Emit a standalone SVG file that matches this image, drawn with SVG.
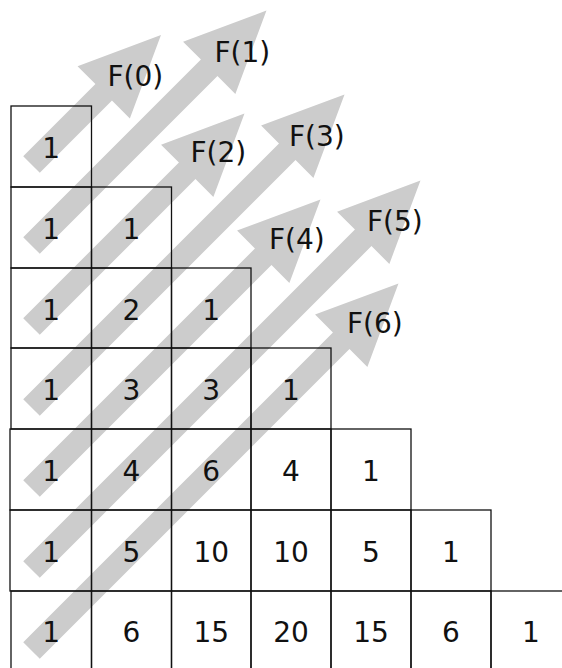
<svg xmlns="http://www.w3.org/2000/svg" width="562" height="668" viewBox="0 0 562 668">
<style>
.arrow{fill:#cccccc;stroke:none}
.cell{fill:none;stroke:#111;stroke-width:1.3}
.num{font-family:"DejaVu Sans","Liberation Sans",sans-serif;font-size:28px;fill:#111;text-anchor:middle}
.lbl{font-family:"DejaVu Sans","Liberation Sans",sans-serif;font-size:28px;fill:#111}
</style>
<rect width="562" height="668" fill="#fff"/>
<g id="arrows">
<polygon class="arrow" transform="translate(31.5,164.5) rotate(-45)" points="0,-11.7 102.1,-11.7 102.1,-37 183.1,0 102.1,37 102.1,11.7 0,11.7"/>
<polygon class="arrow" transform="translate(31.5,245.5) rotate(-45)" points="0,-11.7 251.3,-11.7 251.3,-37 332.3,0 251.3,37 251.3,11.7 0,11.7"/>
<polygon class="arrow" transform="translate(31.5,326.5) rotate(-45)" points="0,-11.7 220.2,-11.7 220.2,-37 301.2,0 220.2,37 220.2,11.7 0,11.7"/>
<polygon class="arrow" transform="translate(31.5,407.5) rotate(-45)" points="0,-11.7 361.7,-11.7 361.7,-37 442.7,0 361.7,37 361.7,11.7 0,11.7"/>
<polygon class="arrow" transform="translate(31.5,488.5) rotate(-45)" points="0,-11.7 327.7,-11.7 327.7,-37 408.7,0 327.7,37 327.7,11.7 0,11.7"/>
<polygon class="arrow" transform="translate(31.5,569.5) rotate(-45)" points="0,-11.7 469.1,-11.7 469.1,-37 550.1,0 469.1,37 469.1,11.7 0,11.7"/>
<polygon class="arrow" transform="translate(31.5,650.5) rotate(-45)" points="0,-11.7 438,-11.7 438,-37 519,0 438,37 438,11.7 0,11.7"/>
</g>
<g id="row0">
<g id="c0_0"><rect class="cell" x="11" y="106" width="80.5" height="81"/><text class="num" x="51.25" y="158">1</text></g>
</g>
<g id="row1">
<g id="c1_0"><rect class="cell" x="11" y="187" width="80.5" height="81"/><text class="num" x="51.25" y="239">1</text></g>
<g id="c1_1"><rect class="cell" x="91.5" y="187" width="80" height="81"/><text class="num" x="131.5" y="239">1</text></g>
</g>
<g id="row2">
<g id="c2_0"><rect class="cell" x="11" y="268" width="80.5" height="80"/><text class="num" x="51.25" y="320">1</text></g>
<g id="c2_1"><rect class="cell" x="91.5" y="268" width="80" height="80"/><text class="num" x="131.5" y="320">2</text></g>
<g id="c2_2"><rect class="cell" x="171.5" y="268" width="79.5" height="80"/><text class="num" x="211.25" y="320">1</text></g>
</g>
<g id="row3">
<g id="c3_0"><rect class="cell" x="11" y="348" width="80.5" height="81"/><text class="num" x="51.25" y="400">1</text></g>
<g id="c3_1"><rect class="cell" x="91.5" y="348" width="80" height="81"/><text class="num" x="131.5" y="400">3</text></g>
<g id="c3_2"><rect class="cell" x="171.5" y="348" width="79.5" height="81"/><text class="num" x="211.25" y="400">3</text></g>
<g id="c3_3"><rect class="cell" x="251" y="348" width="80" height="81"/><text class="num" x="291" y="400">1</text></g>
</g>
<g id="row4">
<g id="c4_0"><rect class="cell" x="10" y="429" width="81.5" height="81"/><text class="num" x="51.25" y="481">1</text></g>
<g id="c4_1"><rect class="cell" x="91.5" y="429" width="80" height="81"/><text class="num" x="131.5" y="481">4</text></g>
<g id="c4_2"><rect class="cell" x="171.5" y="429" width="79.5" height="81"/><text class="num" x="211.25" y="481">6</text></g>
<g id="c4_3"><rect class="cell" x="251" y="429" width="80" height="81"/><text class="num" x="291" y="481">4</text></g>
<g id="c4_4"><rect class="cell" x="331" y="429" width="80" height="81"/><text class="num" x="371" y="481">1</text></g>
</g>
<g id="row5">
<g id="c5_0"><rect class="cell" x="10" y="510" width="81.5" height="81"/><text class="num" x="51.25" y="562">1</text></g>
<g id="c5_1"><rect class="cell" x="91.5" y="510" width="80" height="81"/><text class="num" x="131.5" y="562">5</text></g>
<g id="c5_2"><rect class="cell" x="171.5" y="510" width="79.5" height="81"/><text class="num" x="211.25" y="562">10</text></g>
<g id="c5_3"><rect class="cell" x="251" y="510" width="80" height="81"/><text class="num" x="291" y="562">10</text></g>
<g id="c5_4"><rect class="cell" x="331" y="510" width="80" height="81"/><text class="num" x="371" y="562">5</text></g>
<g id="c5_5"><rect class="cell" x="411" y="510" width="80" height="81"/><text class="num" x="451" y="562">1</text></g>
</g>
<g id="row6">
<g id="c6_0"><rect class="cell" x="11" y="591" width="80.5" height="81"/><text class="num" x="51.25" y="642">1</text></g>
<g id="c6_1"><rect class="cell" x="91.5" y="591" width="80" height="81"/><text class="num" x="131.5" y="642">6</text></g>
<g id="c6_2"><rect class="cell" x="171.5" y="591" width="79.5" height="81"/><text class="num" x="211.25" y="642">15</text></g>
<g id="c6_3"><rect class="cell" x="251" y="591" width="80" height="81"/><text class="num" x="291" y="642">20</text></g>
<g id="c6_4"><rect class="cell" x="331" y="591" width="80" height="81"/><text class="num" x="371" y="642">15</text></g>
<g id="c6_5"><rect class="cell" x="411" y="591" width="80" height="81"/><text class="num" x="451" y="642">6</text></g>
<g id="c6_6"><rect class="cell" x="491" y="591" width="80" height="81"/><text class="num" x="531" y="642">1</text></g>
</g>
<g id="labels">
<text class="lbl" x="107.5" y="86">F(0)</text>
<text class="lbl" x="214.5" y="62">F(1)</text>
<text class="lbl" x="190.5" y="162">F(2)</text>
<text class="lbl" x="289" y="146">F(3)</text>
<text class="lbl" x="269" y="249">F(4)</text>
<text class="lbl" x="367" y="231">F(5)</text>
<text class="lbl" x="347" y="333">F(6)</text>
</g>
</svg>
